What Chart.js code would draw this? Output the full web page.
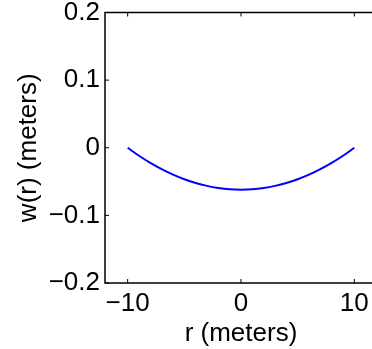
<!DOCTYPE html>
<html>
<head>
<meta charset="utf-8">
<script src="https://cdn.jsdelivr.net/npm/chart.js@4/dist/chart.umd.min.js"></script>
<style>
    html, body { margin: 0; padding: 0; overflow: hidden; background: #fff; }
    #chart-ctx { display: block; }
</style>
</head>
<body>
<canvas id="chart-ctx" width="380" height="349"></canvas>
<script>
// values
const rValues = [-10, -9, -8, -7, -6, -5, -4, -3, -2, -1, 0, 1, 2, 3, 4, 5, 6, 7, 8, 9, 10];
const wValues = [0, -0.0118, -0.0223, -0.0316, -0.0397, -0.0465, -0.0521, -0.0564, -0.0595, -0.0614, -0.062,
    -0.0614, -0.0595, -0.0564, -0.0521, -0.0465, -0.0397, -0.0316, -0.0223, -0.0118, 0];

const xTickValues = [-10, 0, 10];
const xTickLabels = ["\u221210", "0", "10"];
const yTickValues = [-0.2, -0.1, 0, 0.1, 0.2];
const yTickLabels = ["\u22120.2", "\u22120.1", "0", "0.1", "0.2"];

const fontFamily = "'Liberation Sans', Arial, Helvetica, sans-serif";

// MATLAB style box with ticks pointing inwards
const boxPlugin = {
    id: "matlabBox",
    afterDraw(chart) {
        const { ctx, chartArea, scales } = chart;
        const len = 4;
        ctx.save();
        ctx.strokeStyle = "#000";
        ctx.lineWidth = 1.5;
        ctx.strokeRect(chartArea.left, chartArea.top, chartArea.right - chartArea.left, chartArea.bottom - chartArea.top);
        ctx.lineWidth = 1;
        ctx.beginPath();
        xTickValues.forEach((v) => {
            const px = scales.x.getPixelForValue(v);
            ctx.moveTo(px, chartArea.bottom);
            ctx.lineTo(px, chartArea.bottom - len);
            ctx.moveTo(px, chartArea.top);
            ctx.lineTo(px, chartArea.top + len);
        });
        yTickValues.forEach((v) => {
            const py = scales.y.getPixelForValue(v);
            ctx.moveTo(chartArea.left, py);
            ctx.lineTo(chartArea.left + len, py);
            ctx.moveTo(chartArea.right, py);
            ctx.lineTo(chartArea.right - len, py);
        });
        ctx.stroke();
        ctx.restore();
    }
};

const points = rValues.map((r, i) => ({ x: r, y: wValues[i] }));

new Chart(document.getElementById("chart-ctx"), {
    type: "scatter",
    data: {
        datasets: [{
            data: points,
            showLine: true,
            borderColor: "#0000ff",
            borderWidth: 2,
            pointRadius: 0,
            cubicInterpolationMode: "monotone",
        }]
    },
    options: {
        responsive: false,
        animation: false,
        devicePixelRatio: 1,
        layout: {
            padding: { top: 12.5, right: 3, left: 0, bottom: 0 }
        },
        plugins: {
            legend: { display: false },
            tooltip: { enabled: false },
        },
        scales: {
            x: {
                type: "linear",
                min: -12,
                max: 12,
                afterBuildTicks: (scale) => {
                    scale.ticks = xTickValues.map((v) => ({ value: v }));
                },
                afterFit: (scale) => {
                    scale.height = 66;
                    scale.paddingLeft = 0;
                    scale.paddingRight = 0;
                },
                grid: { display: false, drawTicks: false },
                border: { display: false },
                ticks: {
                    color: "#000",
                    padding: 5,
                    maxRotation: 0,
                    autoSkip: false,
                    font: { family: fontFamily, size: 26 },
                    callback: (value) => xTickLabels[xTickValues.indexOf(value)],
                },
                title: {
                    display: true,
                    text: "r (meters)",
                    color: "#000",
                    padding: { top: 0, bottom: 0 },
                    font: { family: fontFamily, size: 26, lineHeight: 1.15 },
                },
            },
            y: {
                type: "linear",
                min: -0.2,
                max: 0.2,
                afterBuildTicks: (scale) => {
                    scale.ticks = yTickValues.map((v) => ({ value: v }));
                },
                afterFit: (scale) => {
                    scale.width = 105;
                    scale.paddingTop = 0;
                    scale.paddingBottom = 0;
                },
                grid: { display: false, drawTicks: false },
                border: { display: false },
                ticks: {
                    color: "#000",
                    padding: 5,
                    autoSkip: false,
                    font: { family: fontFamily, size: 26 },
                    callback: (value) => {
                        const i = yTickValues.findIndex((v) => Math.abs(v - value) < 1e-9);
                        return yTickLabels[i];
                    },
                },
                title: {
                    display: true,
                    text: "w(r) (meters)",
                    color: "#000",
                    padding: { top: 14, bottom: 0 },
                    font: { family: fontFamily, size: 26, lineHeight: 1.15 },
                },
            }
        }
    },
    plugins: [boxPlugin],
});
</script>
</body>
</html>
